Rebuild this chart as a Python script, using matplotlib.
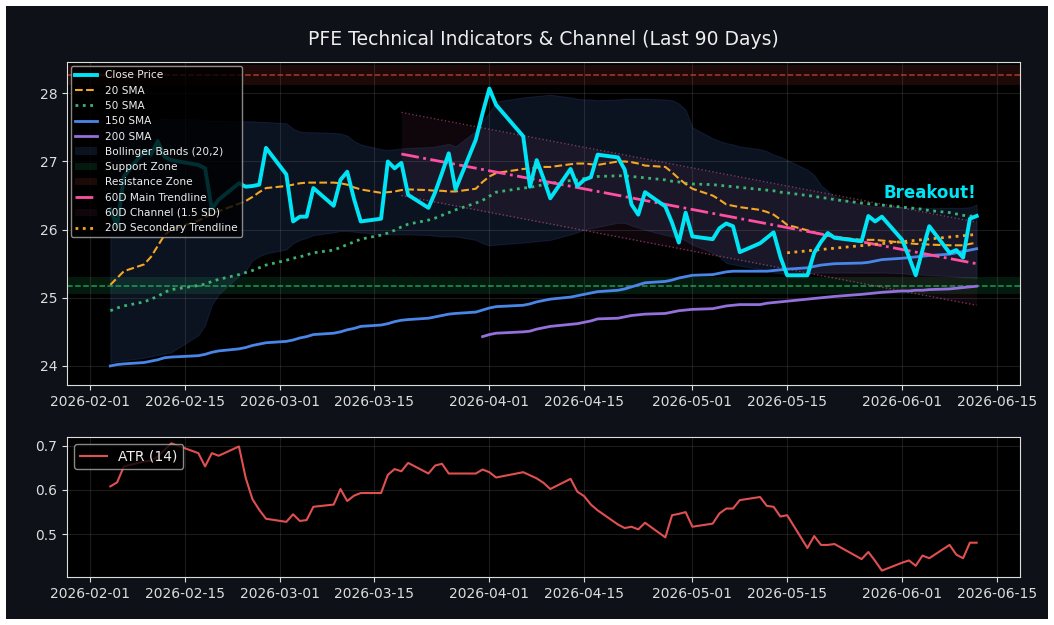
import matplotlib.pyplot as plt
import matplotlib.dates as mdates
from matplotlib.patches import Rectangle, Patch
from matplotlib.lines import Line2D
import numpy as np
import pandas as pd

# trading days shown (last 90 sessions)
holidays = ["2026-02-16", "2026-04-03", "2026-05-25"]
dates = pd.bdate_range("2026-02-04", "2026-06-12")
dates = dates[~dates.isin(pd.to_datetime(holidays))]

close = [
    26.30, 26.05, 26.78, 27.15, 27.10, 27.30, 27.07, 27.02, 26.95, 26.90, 26.30, 26.44, 26.68, 26.63, 26.64, 26.66, 27.20,
    26.81, 26.12, 26.19, 26.19, 26.61, 26.35, 26.73, 26.85, 26.45, 26.12, 26.16, 27.00, 26.90, 26.98, 26.51, 26.32,
    26.55, 26.83, 27.12, 26.59, 27.32, 27.71,
    28.07, 27.83, 27.37, 26.63, 27.02, 26.75, 26.46, 26.89, 26.64, 26.73, 26.77, 27.10, 27.06, 26.88, 26.37, 26.22,
    26.55, 26.34, 26.10, 25.81, 26.25,
    25.90, 25.86, 26.02, 26.09, 26.05, 25.67, 25.80, 25.88, 25.96, 25.60, 25.33, 25.33, 25.66, 25.82, 25.95, 25.88,
    25.83, 26.20, 26.12, 26.19,
    25.85, 25.60, 25.33, 25.70, 26.05, 25.66, 25.70, 25.59, 26.16, 26.20,
]
sma20 = [
    25.19, 25.29, 25.39, 25.49, 25.60, 25.76, 25.92, 26.00, 26.13, 26.18, 26.24, 26.27, 26.38, 26.42, 26.48, 26.55, 26.61,
    26.64, 26.66, 26.68, 26.69, 26.69, 26.69, 26.68, 26.66, 26.62, 26.59, 26.54, 26.55, 26.56, 26.58, 26.59, 26.58,
    26.57, 26.57, 26.56, 26.56, 26.60, 26.70,
    26.78, 26.83, 26.89, 26.90, 26.91, 26.92, 26.92, 26.96, 26.97, 26.97, 26.96, 26.95, 27.00, 27.00, 26.99, 26.97,
    26.94, 26.92, 26.84, 26.75, 26.67,
    26.60, 26.50, 26.44, 26.37, 26.35, 26.33, 26.29, 26.26, 26.22, 26.15, 26.07, 25.99, 25.96, 25.93, 25.91, 25.89,
    25.85, 25.85, 25.85, 25.84,
    25.81, 25.80, 25.79, 25.79, 25.78, 25.77, 25.77, 25.77, 25.79, 25.81,
]
sma50 = [
    24.81, 24.85, 24.88, 24.94, 24.98, 25.02, 25.08, 25.12, 25.18, 25.20, 25.24, 25.27, 25.34, 25.37, 25.40, 25.44, 25.48,
    25.55, 25.58, 25.60, 25.63, 25.66, 25.70, 25.74, 25.78, 25.82, 25.86, 25.92, 25.95, 25.99, 26.04, 26.08, 26.14,
    26.17, 26.21, 26.25, 26.29, 26.39, 26.43,
    26.49, 26.55, 26.61, 26.62, 26.64, 26.66, 26.68, 26.72, 26.73, 26.75, 26.77, 26.78, 26.79, 26.79, 26.78, 26.77,
    26.76, 26.73, 26.71, 26.70, 26.68,
    26.67, 26.66, 26.65, 26.64, 26.63, 26.62, 26.59, 26.58, 26.57, 26.55, 26.54, 26.50, 26.49, 26.47, 26.46, 26.44,
    26.39, 26.38, 26.37, 26.36,
    26.33, 26.32, 26.31, 26.30, 26.28, 26.25, 26.23, 26.21, 26.20, 26.19,
]
sma150 = [
    24.00, 24.02, 24.03, 24.05, 24.07, 24.09, 24.12, 24.13, 24.15, 24.17, 24.20, 24.22, 24.25, 24.27, 24.30, 24.32, 24.34,
    24.36, 24.38, 24.41, 24.43, 24.46, 24.48, 24.50, 24.53, 24.55, 24.58, 24.60, 24.62, 24.65, 24.67, 24.68, 24.70,
    24.72, 24.74, 24.76, 24.77, 24.79, 24.82,
    24.85, 24.87, 24.89, 24.91, 24.94, 24.96, 24.98, 25.01, 25.03, 25.05, 25.07, 25.09, 25.11, 25.13, 25.16, 25.19,
    25.22, 25.24, 25.26, 25.29, 25.31,
    25.33, 25.34, 25.36, 25.38, 25.39, 25.39, 25.39, 25.39, 25.40, 25.41, 25.42, 25.44, 25.46, 25.48, 25.49, 25.50,
    25.51, 25.52, 25.54, 25.56,
    25.58, 25.59, 25.60, 25.61, 25.62, 25.64, 25.66, 25.68, 25.70, 25.72,
]
# 200 SMA only exists from 2026-03-31
sma200 = [np.nan] * 38 + [
    24.43,
    24.46, 24.48, 24.50, 24.51, 24.54, 24.56, 24.58, 24.61, 24.62, 24.64, 24.66, 24.69, 24.70, 24.72, 24.74, 24.75,
    24.76, 24.77, 24.79, 24.81, 24.82,
    24.83, 24.84, 24.86, 24.88, 24.89, 24.90, 24.90, 24.92, 24.93, 24.94, 24.95, 24.98, 24.99, 25.00, 25.01, 25.02,
    25.05, 25.06, 25.07, 25.08,
    25.10, 25.10, 25.11, 25.11, 25.12, 25.13, 25.14, 25.15, 25.16, 25.17,
]
bb_upper = [
    27.45, 27.50, 27.52, 27.57, 27.60, 27.62, 27.63, 27.62, 27.62, 27.60, 27.60, 27.60, 27.59, 27.59, 27.59, 27.58, 27.58,
    27.56, 27.48, 27.44, 27.43, 27.43, 27.42, 27.41, 27.38, 27.30, 27.25, 27.18, 27.17, 27.18, 27.19, 27.20, 27.21,
    27.22, 27.24, 27.26, 27.22, 27.45, 27.60,
    27.72, 27.88, 27.94, 27.95, 27.96, 27.97, 27.98, 27.94, 27.92, 27.91, 27.91, 27.90, 27.91, 27.92, 27.92, 27.92,
    27.92, 27.91, 27.90, 27.85, 27.76,
    27.50, 27.34, 27.30, 27.27, 27.25, 27.22, 27.18, 27.15, 27.10, 27.07, 27.02, 26.88, 26.80, 26.65, 26.57, 26.48,
    26.37, 26.35, 26.34, 26.34,
    26.33, 26.32, 26.32, 26.32, 26.32, 26.32, 26.32, 26.32, 26.33, 26.37,
]
bb_lower = [
    24.05, 24.07, 24.08, 24.12, 24.14, 24.16, 24.18, 24.20, 24.45, 24.60, 24.90, 25.05, 25.32, 25.40, 25.55, 25.61, 25.65,
    25.71, 25.80, 25.85, 25.88, 25.92, 25.96, 25.98, 25.98, 25.97, 25.96, 25.93, 25.93, 25.93, 25.93, 25.93, 25.92,
    25.91, 25.90, 25.90, 25.90, 25.85, 25.80,
    25.77, 25.78, 25.81, 25.82, 25.83, 25.84, 25.85, 25.93, 25.96, 26.00, 26.02, 26.04, 26.10, 26.10, 26.06, 26.03,
    26.00, 25.92, 25.90, 25.88, 25.84,
    25.78, 25.66, 25.60, 25.51, 25.49, 25.47, 25.42, 25.39, 25.37, 25.36, 25.34, 25.36, 25.37, 25.37, 25.37, 25.37,
    25.37, 25.37, 25.37, 25.37,
    25.36, 25.35, 25.34, 25.34, 25.33, 25.32, 25.31, 25.30, 25.30, 25.29,
]
atr = [
    0.608, 0.617, 0.653, 0.664, 0.666, 0.675, 0.690, 0.705, 0.683, 0.653, 0.683, 0.677, 0.698, 0.627, 0.579, 0.555, 0.535,
    0.528, 0.545, 0.530, 0.532, 0.562, 0.567, 0.602, 0.575, 0.587, 0.593, 0.593, 0.634, 0.647, 0.642, 0.661, 0.637,
    0.655, 0.659, 0.637, 0.637, 0.637, 0.646,
    0.640, 0.628, 0.640, 0.633, 0.626, 0.616, 0.602, 0.625, 0.596, 0.586, 0.567, 0.554, 0.522, 0.514, 0.517, 0.511,
    0.526, 0.493, 0.543, 0.546, 0.550,
    0.517, 0.524, 0.547, 0.558, 0.558, 0.577, 0.584, 0.564, 0.562, 0.540, 0.543, 0.469, 0.496, 0.476, 0.476, 0.478,
    0.444, 0.460, 0.440, 0.418,
    0.436, 0.441, 0.429, 0.452, 0.446, 0.476, 0.454, 0.446, 0.481, 0.481,
]

support_level = 25.18
resistance_level = 28.27
zone_pct = 0.005

# 60-day regression channel (start/end of window) and 20-day trendline
trend60_idx = [30, 89]
trend60_mid = [27.11, 25.50]
trend60_up = [27.72, 26.11]
trend60_lo = [26.50, 24.89]
trend20_idx = [70, 89]
trend20_vals = [25.66, 25.93]

BG = "#0e1117"
BB_COLOR = "#3b5ba5"

fig = plt.figure(figsize=(10.54, 6.25), dpi=100, facecolor="white")
fig.add_artist(Rectangle((6 / 1054, 6 / 625), 1042 / 1054, 613 / 625,
                         transform=fig.transFigure, facecolor=BG, edgecolor="none", zorder=-5))

ax = fig.add_axes([0.0636, 0.384, 0.9041, 0.5168])
ax2 = fig.add_axes([0.0636, 0.0768, 0.9041, 0.224])

for a in (ax, ax2):
    a.set_facecolor("black")
    for s in a.spines.values():
        s.set_color("#dddddd")
    a.tick_params(colors="#dddddd", labelsize=10)
    a.grid(True, color="#888888", alpha=0.2, linewidth=0.8)
    a.xaxis.set_major_locator(mdates.DayLocator(bymonthday=[1, 15]))
    a.xaxis.set_major_formatter(mdates.DateFormatter("%Y-%m-%d"))

ax.fill_between(dates, bb_lower, bb_upper, color=BB_COLOR, alpha=0.2, linewidth=0.8)

ax.axhspan(support_level * (1 - zone_pct), support_level * (1 + zone_pct), color="#2ecc71", alpha=0.13, linewidth=0)
ax.axhline(support_level, color="#2ecc71", linestyle="--", linewidth=1.1, alpha=0.7)
ax.axhspan(resistance_level * (1 - zone_pct), resistance_level * (1 + zone_pct), color="#e74c3c", alpha=0.13, linewidth=0)
ax.axhline(resistance_level, color="#e74c3c", linestyle="--", linewidth=1.1, alpha=0.7)

d60 = dates[trend60_idx]
ax.fill_between(d60, trend60_lo, trend60_up, color="#ff69b4", alpha=0.06, linewidth=0)
ax.plot(d60, trend60_up, color="#ff69b4", linestyle=":", linewidth=1, alpha=0.45)
ax.plot(d60, trend60_lo, color="#ff69b4", linestyle=":", linewidth=1, alpha=0.45)

ax.plot(dates, sma150, color="#4a86e8", linewidth=2)
ax.plot(dates, sma200, color="#9370db", linewidth=2)
ax.plot(dates, sma50, color="#3cb371", linestyle=":", linewidth=2)
ax.plot(dates, sma20, color="#f5a623", linestyle="--", linewidth=1.5)
ax.plot(d60, trend60_mid, color="#ff4fa3", linestyle="-.", linewidth=2)
ax.plot(dates[trend20_idx], trend20_vals, color="#f5a623", linestyle=":", linewidth=2)
ax.plot(dates, close, color="#00e5f5", linewidth=2.8)

ax.text(dates[-1], 26.54, "Breakout!", color="#00e5f5", fontsize=12, fontweight="bold",
        ha="right", va="center")

ax.set_ylim(23.72, 28.46)
ax.set_yticks([24, 25, 26, 27, 28])
ax.set_title("PFE Technical Indicators & Channel (Last 90 Days)", color="#eeeeee", fontsize=13.5, pad=12)

handles = [
    Line2D([], [], color="#00e5f5", linewidth=2.8),
    Line2D([], [], color="#f5a623", linestyle="--", linewidth=1.5),
    Line2D([], [], color="#3cb371", linestyle=":", linewidth=2),
    Line2D([], [], color="#4a86e8", linewidth=2),
    Line2D([], [], color="#9370db", linewidth=2),
    Patch(facecolor=BB_COLOR, alpha=0.2),
    Patch(facecolor="#2ecc71", alpha=0.13),
    Patch(facecolor="#e74c3c", alpha=0.13),
    Line2D([], [], color="#ff4fa3", linestyle="-.", linewidth=2),
    Patch(facecolor="#ff69b4", alpha=0.06),
    Line2D([], [], color="#f5a623", linestyle=":", linewidth=2),
]
labels = ["Close Price", "20 SMA", "50 SMA", "150 SMA", "200 SMA", "Bollinger Bands (20,2)",
          "Support Zone", "Resistance Zone", "60D Main Trendline", "60D Channel (1.5 SD)",
          "20D Secondary Trendline"]
ax.legend(handles, labels, loc="upper left", fontsize=7.6, facecolor="black", edgecolor="#aaaaaa",
          framealpha=0.8, labelcolor="#eeeeee", borderaxespad=0.4)

ax2.plot(dates, atr, color="#e05050", linewidth=1.5, label="ATR (14)")
ax2.set_yticks([0.5, 0.6, 0.7])
ax2.legend(loc="upper left", fontsize=10, facecolor="black", edgecolor="#aaaaaa",
           framealpha=0.8, labelcolor="#eeeeee")

fig.savefig("out.png", dpi=100, facecolor=fig.get_facecolor())
